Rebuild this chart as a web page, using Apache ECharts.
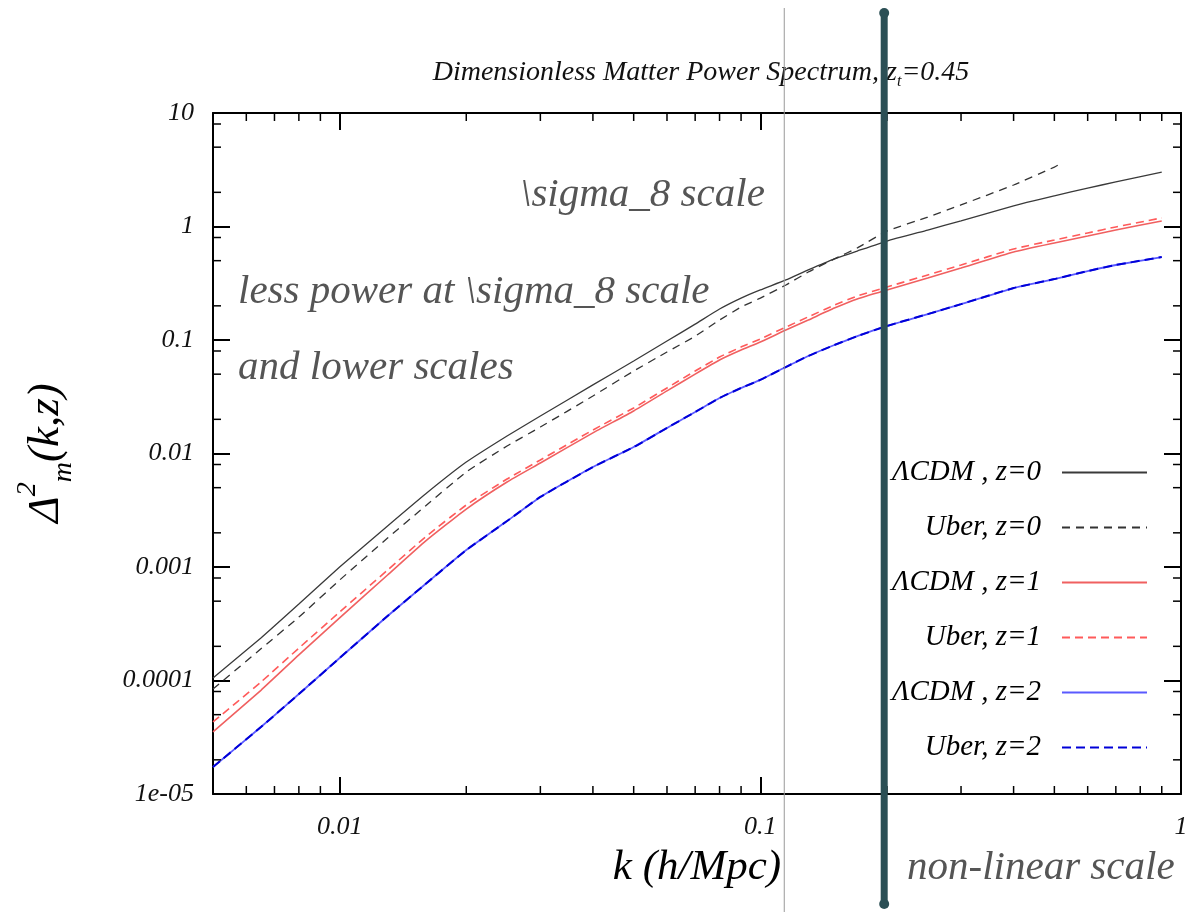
<!DOCTYPE html>
<html>
<head>
<meta charset="utf-8">
<script src="https://cdn.jsdelivr.net/npm/echarts@6/dist/echarts.min.js"></script>
<style>
  html, body { margin: 0; padding: 0; background: #fff; }
  #container { width: 1191px; height: 912px; }
</style>
</head>
<body>
<div id="container"></div>
<script>
// k values (h/Mpc)
var kGrid = [0.005, 0.0065, 0.008, 0.01, 0.013, 0.016, 0.02, 0.025, 0.03, 0.04, 0.05, 0.06, 0.07, 0.08, 0.09,
	0.1, 0.115, 0.13, 0.15, 0.17, 0.2, 0.25, 0.3, 0.4, 0.5, 0.6, 0.7, 0.9];
var kUber0 = [0.005, 0.0065, 0.008, 0.01, 0.013, 0.016, 0.02, 0.025, 0.03, 0.04, 0.05, 0.06, 0.07, 0.08, 0.09,
	0.1, 0.115, 0.13, 0.15, 0.17, 0.2, 0.25, 0.3, 0.4, 0.5, 0.52];

var lcdmZ0 = [1.05e-4, 2.37e-4, 4.72e-4, 1.0e-3, 2.30e-3, 4.40e-3, 8.4e-3, 0.01426, 0.0214, 0.0402, 0.0653, 0.098, 0.138, 0.1875, 0.234,
	0.276, 0.338, 0.414, 0.518, 0.608, 0.745, 0.931, 1.12, 1.52, 1.86, 2.18, 2.47, 3.02];
var uberZ0 = [8.4e-5, 1.90e-4, 3.62e-4, 7.67e-4, 1.80e-3, 3.45e-3, 6.87e-3, 0.01164, 0.0171, 0.0321, 0.0533, 0.0784, 0.108, 0.150, 0.195,
	0.234, 0.305, 0.397, 0.518, 0.647, 0.912, 1.21, 1.55, 2.32, 3.34, 3.62];
var lcdmZ1 = [3.52e-5, 8.2e-5, 1.68e-4, 3.56e-4, 8.5e-4, 1.69e-3, 3.24e-3, 5.61e-3, 8.24e-3, 0.0152, 0.0237, 0.0356, 0.0501, 0.0667, 0.0816,
	0.096, 0.1225, 0.150, 0.191, 0.230, 0.276, 0.352, 0.431, 0.596, 0.716, 0.825, 0.931, 1.12];
var uberZ1 = [4.31e-5, 9.7e-5, 1.93e-4, 4.01e-4, 9.4e-4, 1.84e-3, 3.52e-3, 5.96e-3, 8.77e-3, 0.0161, 0.0252, 0.0378, 0.0533, 0.0708, 0.0867,
	0.102, 0.130, 0.160, 0.203, 0.244, 0.293, 0.374, 0.458, 0.634, 0.760, 0.877, 0.991, 1.19];
var lcdmZ2 = [1.73e-5, 3.89e-5, 7.6e-5, 1.58e-4, 3.70e-4, 7.08e-4, 1.41e-3, 2.54e-3, 4.14e-3, 7.6e-3, 0.0114, 0.0168, 0.0232, 0.0308, 0.0378,
	0.0445, 0.0578, 0.0723, 0.0904, 0.108, 0.133, 0.169, 0.207, 0.287, 0.344, 0.405, 0.458, 0.538];
var uberZ2 = [1.73e-5, 3.89e-5, 7.6e-5, 1.58e-4, 3.70e-4, 7.08e-4, 1.41e-3, 2.54e-3, 4.14e-3, 7.6e-3, 0.0114, 0.0168, 0.0232, 0.0308, 0.0378,
	0.0445, 0.0578, 0.0723, 0.0904, 0.108, 0.133, 0.169, 0.207, 0.287, 0.344, 0.405, 0.458, 0.538];

var seriesNames = ['ΛCDM , z=0', 'Uber, z=0', 'ΛCDM , z=1', 'Uber, z=1', 'ΛCDM , z=2', 'Uber, z=2'];

// axes
var xMin = 0.005, xMax = 1;
var yMin = 1e-5, yMax = 10;
var xTickLabels = ['0.01', '0.1', '1'];             // 10^-2 .. 10^0
var yTickLabels = ['1e-05', '0.0001', '0.001', '0.01', '0.1', '1', '10']; // 10^-5 .. 10^1
var xMinorMult = [2, 3, 4, 5, 6, 7, 8, 9];
var yMinorMult = [2, 5, 8];

// vertical marker lines
var thinLineK = 0.114;
var thickLineK = 0.197;

var serif = '"Liberation Serif", "Times New Roman", serif';

function pairs(ks, vs) {
	var out = [];
	for (var i = 0; i < vs.length; i++) out.push([ks[i], vs[i]]);
	return out;
}

function minorTicks(lo, hi, mults) {
	var out = [];
	for (var e = Math.floor(Math.log10(lo)); e < Math.log10(hi); e++) {
		for (var j = 0; j < mults.length; j++) {
			var v = mults[j] * Math.pow(10, e);
			if (v > lo * 1.0001 && v < hi * 0.9999) out.push(v);
		}
	}
	return out;
}

function decadeLabel(labels, offset) {
	return function (v) {
		var e = Math.log10(v);
		if (Math.abs(e - Math.round(e)) > 1e-6) return '';
		return labels[Math.round(e) + offset] || '';
	};
}

function lineSeries(name, ks, vs, color, width, type) {
	return {
		name: name,
		type: 'line',
		data: pairs(ks, vs),
		symbol: 'none',
		showSymbol: false,
		smooth: 0.15,
		lineStyle: { color: color, width: width, type: type },
		itemStyle: { color: color },
		z: 3
	};
}

function axisTickStyle() {
	return { show: true, inside: true, length: 17, lineStyle: { color: '#000', width: 2 } };
}

function columns() {
	var dom = document.getElementById("container");
	var myChart = echarts.init(dom, null, { renderer: 'canvas' });
	var minorLen = 8;

	var xMinor = minorTicks(xMin, xMax, xMinorMult);
	var yMinor = minorTicks(yMin, yMax, yMinorMult);

	var option = {
		animation: false,
		backgroundColor: '#fff',
		title: {
			text: '{a|Dimensionless Matter Power Spectrum, z}{b|t}{a|=0.45}',
			left: 696,
			textAlign: 'center',
			top: 51,
			textStyle: {
				fontWeight: 'normal',
				rich: {
					a: { fontFamily: serif, fontStyle: 'italic', fontWeight: 'normal', fontSize: 28, color: '#111', lineHeight: 34 },
					b: { fontFamily: serif, fontStyle: 'italic', fontWeight: 'normal', fontSize: 16, color: '#111', lineHeight: 34, verticalAlign: 'bottom' }
				}
			}
		},
		grid: { left: 213, top: 113, width: 968, height: 681, containLabel: false },
		legend: {
			data: seriesNames,
			orient: 'vertical',
			align: 'right',
			right: 43,
			top: 458,
			padding: 0,
			itemWidth: 85,
			itemHeight: 16,
			itemGap: 26,
			itemStyle: { opacity: 0 },
			textStyle: { fontFamily: serif, fontStyle: 'italic', fontSize: 29, color: '#000', padding: [0, 16, 0, 0] }
		},
		xAxis: [{
			type: 'log', logBase: 10, min: xMin, max: xMax,
			position: 'bottom',
			axisLine: { lineStyle: { color: '#000', width: 2 } },
			axisTick: axisTickStyle(),
			splitLine: { show: false },
			axisLabel: { formatter: decadeLabel(xTickLabels, 2), fontFamily: serif, fontStyle: 'italic', fontSize: 26, color: '#111', margin: 20 },
			name: 'k (h/Mpc)',
			nameLocation: 'middle',
			nameGap: 52,
			nameTextStyle: { fontFamily: serif, fontStyle: 'italic', fontSize: 43, color: '#000' }
		}, {
			type: 'log', logBase: 10, min: xMin, max: xMax,
			position: 'top',
			axisLine: { lineStyle: { color: '#000', width: 2 } },
			axisTick: axisTickStyle(),
			splitLine: { show: false },
			axisLabel: { show: false }
		}],
		yAxis: [{
			type: 'log', logBase: 10, min: yMin, max: yMax,
			position: 'left',
			axisLine: { lineStyle: { color: '#000', width: 2 } },
			axisTick: axisTickStyle(),
			splitLine: { show: false },
			axisLabel: { formatter: decadeLabel(yTickLabels, 5), fontFamily: serif, fontStyle: 'italic', fontSize: 26, color: '#111', margin: 19 }
		}, {
			type: 'log', logBase: 10, min: yMin, max: yMax,
			position: 'right',
			axisLine: { lineStyle: { color: '#000', width: 2 } },
			axisTick: axisTickStyle(),
			splitLine: { show: false },
			axisLabel: { show: false }
		}],
		series: [
			lineSeries(seriesNames[0], kGrid, lcdmZ0, '#3a3a3a', 1.3, 'solid'),
			lineSeries(seriesNames[1], kUber0, uberZ0, '#333333', 1.3, [8, 6]),
			lineSeries(seriesNames[2], kGrid, lcdmZ1, '#f06060', 1.6, 'solid'),
			lineSeries(seriesNames[3], kGrid, uberZ1, '#ff5a5a', 1.6, [8, 5]),
			lineSeries(seriesNames[4], kGrid, lcdmZ2, '#5a5aff', 1.8, 'solid'),
			lineSeries(seriesNames[5], kGrid, uberZ2, '#0000d8', 2, [9, 5]),
			{
				// minor ticks on bottom and top axes
				type: 'custom', silent: true, clip: false, z: 5,
				data: xMinor.map(function (v) { return [v, yMin]; }),
				encode: { x: 0, y: 1 },
				renderItem: function (params, api) {
					var v = api.value(0);
					var a = api.coord([v, yMin]), b = api.coord([v, yMax]);
					var st = { stroke: '#000', lineWidth: 1.5 };
					return { type: 'group', children: [
						{ type: 'line', shape: { x1: a[0], y1: a[1], x2: a[0], y2: a[1] - minorLen }, style: st },
						{ type: 'line', shape: { x1: b[0], y1: b[1], x2: b[0], y2: b[1] + minorLen }, style: st }
					] };
				}
			},
			{
				// minor ticks on left and right axes
				type: 'custom', silent: true, clip: false, z: 5,
				data: yMinor.map(function (v) { return [xMin, v]; }),
				encode: { x: 0, y: 1 },
				renderItem: function (params, api) {
					var v = api.value(1);
					var a = api.coord([xMin, v]), b = api.coord([xMax, v]);
					var st = { stroke: '#000', lineWidth: 1.5 };
					return { type: 'group', children: [
						{ type: 'line', shape: { x1: a[0], y1: a[1], x2: a[0] + minorLen, y2: a[1] }, style: st },
						{ type: 'line', shape: { x1: b[0], y1: b[1], x2: b[0] - minorLen, y2: b[1] }, style: st }
					] };
				}
			}
		],
		graphic: [
			annot('s8', '\\sigma_8 scale', 520, 195),
			annot('lp', 'less power at \\sigma_8 scale', 238, 292),
			annot('ls', 'and lower scales', 238, 368),
			annot('nl', 'non-linear scale', 907, 868),
			{
				id: 'ytitle', type: 'text', x: 46, y: 453, rotation: Math.PI / 2, z: 10,
				style: {
					text: '{d|Δ}{p|2}{m|m}{d|(k,z)}',
					align: 'center', verticalAlign: 'middle', textAlign: 'center', textVerticalAlign: 'middle',
					rich: {
						d: { font: 'italic 45px ' + serif, fill: '#000', lineHeight: 64, verticalAlign: 'middle' },
						p: { font: 'italic 28px ' + serif, fill: '#000', lineHeight: 64, verticalAlign: 'top' },
						m: { font: 'italic 28px ' + serif, fill: '#000', lineHeight: 64, verticalAlign: 'bottom' }
					}
				}
			}
		]
	};
	myChart.setOption(option, true);

	// vertical marker lines, placed through the x axis scale
	var thinX = myChart.convertToPixel({ xAxisIndex: 0 }, thinLineK);
	var thickX = myChart.convertToPixel({ xAxisIndex: 0 }, thickLineK);
	myChart.setOption({
		graphic: [
			{ id: 'thin', type: 'line', z: 20, shape: { x1: thinX, y1: 8, x2: thinX, y2: 912 }, style: { stroke: '#999', lineWidth: 1 } },
			{ id: 'thick', type: 'line', z: 30, shape: { x1: thickX, y1: 13, x2: thickX, y2: 904 }, style: { stroke: '#2b4f55', lineWidth: 7 } },
			{ id: 'dotTop', type: 'circle', z: 30, shape: { cx: thickX, cy: 13, r: 5 }, style: { fill: '#2b4f55' } },
			{ id: 'dotBottom', type: 'circle', z: 30, shape: { cx: thickX, cy: 904, r: 5 }, style: { fill: '#2b4f55' } }
		]
	});
}

function annot(id, text, x, y) {
	return {
		id: id, type: 'text', x: x, y: y, z: 10,
		style: {
			text: text,
			font: 'italic 41px "Liberation Serif", serif',
			fill: '#555',
			align: 'left', verticalAlign: 'middle', textAlign: 'left', textVerticalAlign: 'middle'
		}
	};
}

columns();
</script>
</body>
</html>
